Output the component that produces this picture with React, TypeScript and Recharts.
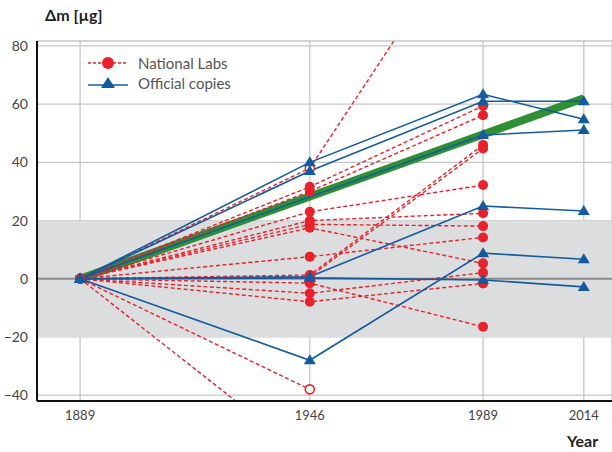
import React from 'react';
import { LineChart, Line, XAxis, YAxis, CartesianGrid, ReferenceArea, ReferenceLine } from 'recharts';

const FONT = 'Lato, "Open Sans", sans-serif';
const RED = '#e8212b';
const BLUE = '#135b9e';
const GREEN = '#2f8f35';

const YEARS = [1889, 1946, 1989, 2014];
const Y_TICKS = [-40, -20, 0, 20, 40, 60, 80];

// national labs, values at 1889 / 1946 / 1989 / 2014 (null = no measurement)
const LABS: (number | null)[][] = [
  [0, 38, 128, null],
  [0, 31.6, 59.4, null],
  [0, 30, 56.2, null],
  [0, 23, 32.2, null],
  [0, 20, 22.5, null],
  [0, 18.7, 18.1, null],
  [0, 17.5, 5.3, null],
  [0, 7.6, 14.2, null],
  [0, 1.3, 46, null],
  [0, 0.7, 44.8, null],
  [0, -1.5, -16.5, null],
  [0, -5, 2.1, null],
  [0, -7.9, -1.6, null],
  [0, -38, null, null],
  [0, -62, null, null],
];
// labs whose 1946 mark is drawn hollow
const OPEN_LABS = [0, 13];

// official copies
const COPIES: (number | null)[][] = [
  [0, 40, 63.4, 54.8],
  [0, 37, 61, 61],
  [0, null, 49.4, 51.1],
  [0, 0.7, 25, 23.3],
  [0, -28, 8.8, 6.7],
  [0, 0.3, -0.4, -2.8],
];

const TREND: (number | null)[] = [0, null, null, 62];

const tableData = YEARS.map((year, i) => {
  const row: Record<string, number | null> = { year, trend: TREND[i] };
  LABS.forEach((s, j) => (row[`lab${j}`] = s[i]));
  COPIES.forEach((s, j) => (row[`copy${j}`] = s[i]));
  return row;
});

const fmt = (v: number) => (v < 0 ? `\u2212${-v}` : `${v}`);

const labDot = (j: number) => (props: any) => {
  const { cx, cy, index, payload } = props;
  const k = `lab${j}-${index}`;
  if (cx == null || cy == null || payload[`lab${j}`] == null) return <g key={k} />;
  if (OPEN_LABS.includes(j) && payload.year === 1946) {
    return <circle key={k} cx={cx} cy={cy} r={4.5} fill="#fff" stroke={RED} strokeWidth={1.6} />;
  }
  return <circle key={k} cx={cx} cy={cy} r={5} fill={RED} />;
};

const triDot = (j: number) => (props: any) => {
  const { cx, cy, index, payload } = props;
  const k = `copy${j}-${index}`;
  if (cx == null || cy == null || payload[`copy${j}`] == null) return <g key={k} />;
  return <polygon key={k} points={`${cx},${cy - 6} ${cx - 6},${cy + 4} ${cx + 6},${cy + 4}`} fill={BLUE} />;
};

const LegendBox = () => (
  <div style={{ position: 'absolute', left: 86, top: 53, fontFamily: FONT, fontSize: 15, color: '#555', lineHeight: '20px' }}>
    <div style={{ display: 'flex', alignItems: 'center' }}>
      <svg width={44} height={20}>
        <line x1={2} x2={42} y1={10} y2={10} stroke={RED} strokeWidth={1.3} strokeDasharray="3 2" />
        <circle cx={22} cy={10} r={6} fill={RED} />
      </svg>
      <span style={{ marginLeft: 8 }}>National Labs</span>
    </div>
    <div style={{ display: 'flex', alignItems: 'center' }}>
      <svg width={44} height={20}>
        <line x1={2} x2={42} y1={12} y2={12} stroke={BLUE} strokeWidth={1.5} />
        <polygon points="22,4 15,15 29,15" fill={BLUE} />
      </svg>
      <span style={{ marginLeft: 8 }}>Official copies</span>
    </div>
  </div>
);

export default function App() {
  return (
    <div style={{ position: 'absolute', left: 0, top: 0, width: 612, height: 452, background: '#fff' }}>
      <div style={{ position: 'absolute', left: 45, top: 5, fontFamily: FONT, fontWeight: 700, fontSize: 16, color: '#222' }}>
        Δm [µg]
      </div>
      <div style={{ position: 'absolute', left: 567, top: 431, fontFamily: FONT, fontWeight: 700, fontSize: 16, color: '#222' }}>
        Year
      </div>
      <LineChart width={612} height={452} data={tableData} margin={{ top: 41, right: 0, bottom: 0, left: 0 }}>
        <ReferenceArea y1={-20} y2={20} fill="#dcdddf" fillOpacity={1} stroke="none" />
        <CartesianGrid stroke="#c6c6c6" strokeWidth={1.3} />
        <ReferenceLine y={0} stroke="#8a8a8a" strokeWidth={2} />
        <XAxis
          type="number"
          dataKey="year"
          domain={[1878.3, 2021]}
          ticks={YEARS}
          allowDataOverflow
          height={51}
          tickSize={0}
          tickMargin={10}
          axisLine={{ stroke: '#111', strokeWidth: 2 }}
          tick={{ fill: '#444', fontSize: 13, fontFamily: FONT }}
        />
        <YAxis
          type="number"
          domain={[-42, 81.7]}
          ticks={Y_TICKS}
          allowDataOverflow
          width={37}
          tickSize={0}
          tickMargin={9}
          tickFormatter={fmt}
          axisLine={{ stroke: '#111', strokeWidth: 2 }}
          tick={{ fill: '#444', fontSize: 14, fontFamily: FONT }}
        />
        <Line dataKey="trend" stroke={GREEN} strokeWidth={8} dot={false} connectNulls isAnimationActive={false} />
        {LABS.map((_, j) => (
          <Line
            key={`lab${j}`}
            dataKey={`lab${j}`}
            stroke={RED}
            strokeWidth={1.4}
            strokeDasharray="4 2.5"
            dot={labDot(j)}
            activeDot={false}
            isAnimationActive={false}
          />
        ))}
        {COPIES.map((_, j) => (
          <Line
            key={`copy${j}`}
            dataKey={`copy${j}`}
            stroke={BLUE}
            strokeWidth={1.6}
            dot={triDot(j)}
            activeDot={false}
            connectNulls
            isAnimationActive={false}
          />
        ))}
      </LineChart>
      <LegendBox />
    </div>
  );
}
